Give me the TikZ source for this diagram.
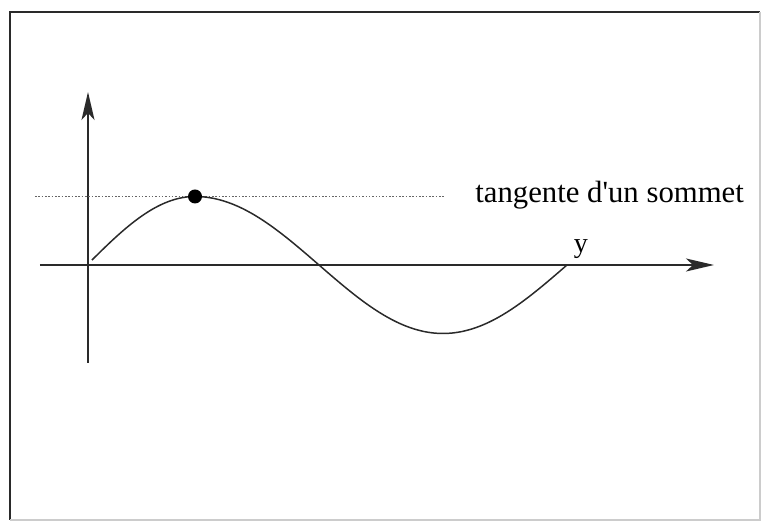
\documentclass[tikz,border=0pt]{standalone}
\usepackage{fontspec}
\setmainfont{Liberation Serif}
\usepackage{tikz}
\usetikzlibrary{arrows.meta,positioning}
\definecolor{axisgray}{HTML}{2A2A2A}

\begin{document}
\begin{tikzpicture}[>={Stealth[length=5.6mm,width=2.6mm,inset=1.4mm]}]
\useasboundingbox (-1.76,-5.16) rectangle (13.56,5.30);
% frame
\draw[line width=1.6pt,axisgray] (-1.56,-5.10)--(-1.56,5.06)--(13.44,5.06);
\draw[line width=0.6pt,black!20] (13.44,5.06)--(13.44,-5.10)--(-1.56,-5.10);
% axes
\coordinate (xs) at (-0.96,0);
\coordinate (xe) at (12.52,0);
\coordinate (ys) at (0,-1.96);
\coordinate (ye) at (0,3.46);
\draw[->,line width=1.1pt,axisgray] (xs)--(xe);
\draw[->,line width=1.1pt,axisgray] (ys)--(ye);
% tangent at the top
\coordinate (top) at (2.14,1.37);
\coordinate (tl) at (-1.06,1.37);
\coordinate (tr) at (7.14,1.37);
\draw[densely dotted,black!60,line width=0.9pt] (tl)--(tr);
\draw[line width=0.85pt,axisgray,smooth,samples=40]
  plot[domain=0.08:2.14] (\x,{1.37*sin(90*(\x+0.02)/2.16)})
  -- plot[domain=2.14:9.58] (\x,{1.37*cos(90*(\x-2.14)/2.48)});
\fill (top) circle (0.14);
\node[anchor=base west,inner sep=0pt,font=\fontsize{17.5}{20}\selectfont] (tang) at (7.74,1.24) {tangente d\textquotesingle un sommet};
\node[anchor=base,font=\fontsize{16}{18}\selectfont] (ylab) at (9.86,0.24) {y};
\end{tikzpicture}
\end{document}
